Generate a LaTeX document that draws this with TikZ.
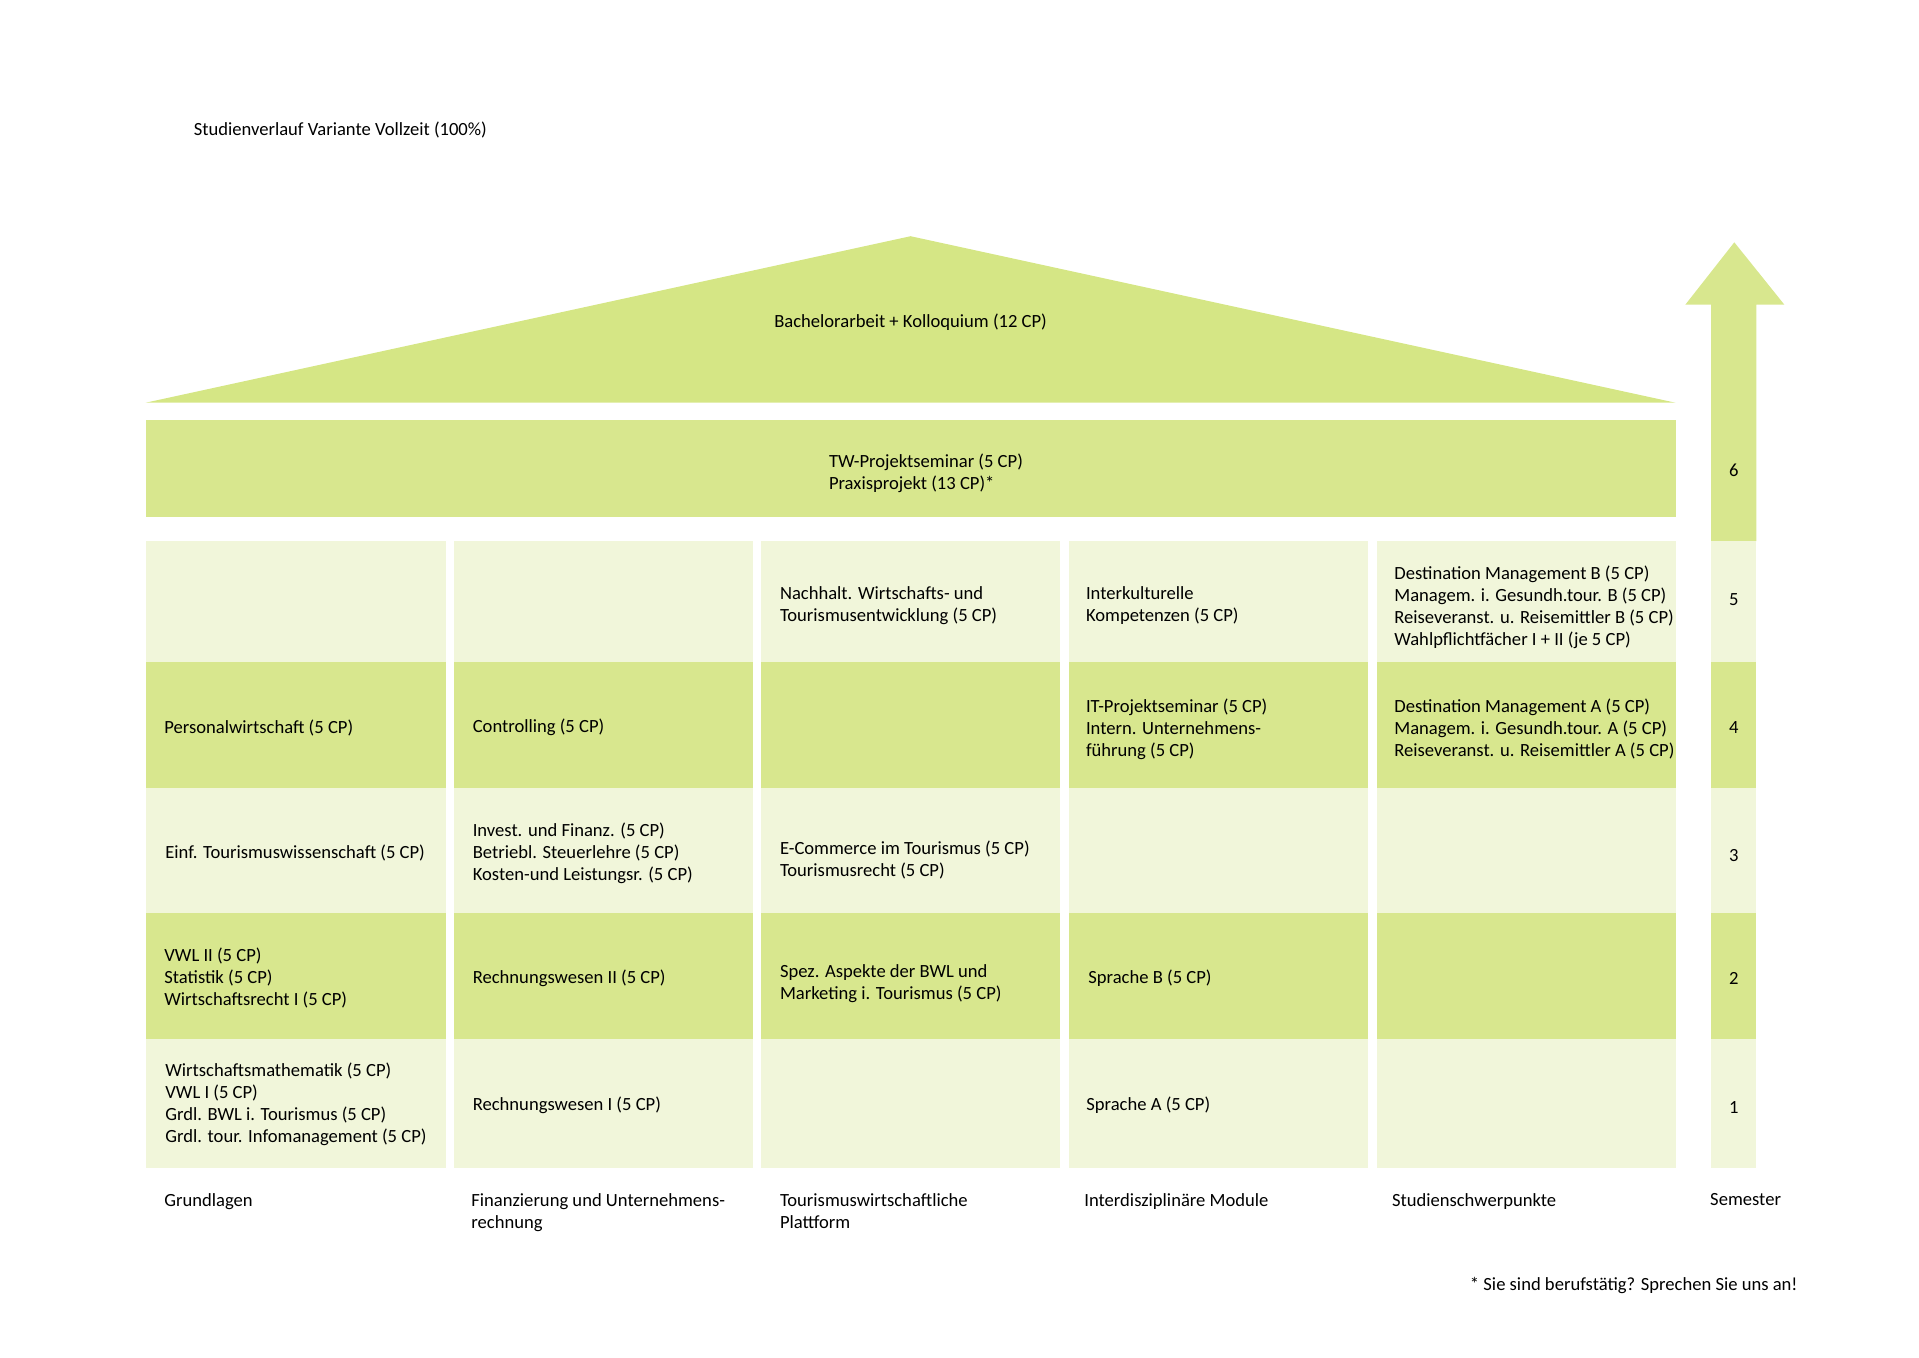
\documentclass[tikz,border=0pt]{standalone}
\usepackage{fontspec}
\setmainfont{Carlito}
\usetikzlibrary{positioning}
\definecolor{gruen}{RGB}{216,231,142}
\definecolor{hellgruen}{RGB}{241,246,218}
\definecolor{dach}{RGB}{213,230,133}

\begin{document}
\begin{tikzpicture}[x=0.5pt,y=-0.5pt,line cap=round,line join=round,
  schrift/.style={inner sep=0pt,yshift=-1.2pt,font=\fontsize{9.3}{11}\selectfont},
  modul/.style={schrift,anchor=west,align=left},
  saeule/.style={schrift,anchor=north west,align=left},
  semnr/.style={schrift}]
\useasboundingbox (0,0) rectangle (1919,1357);
% Dach und Praxisband
\fill[dach] (145.6,402.7) -- (910.6,236.2) -- (1675.5,402.7) -- cycle;
\fill[gruen] (145.6,419.8) rectangle (1675.5,516.5);
% Semesterpfeil
\fill[gruen] (1711,541) -- (1711,304.7) -- (1685.3,304.7) -- (1734.3,242.3) -- (1784.4,304.7) -- (1756.3,304.7) -- (1756.3,541) -- cycle;
% Felder der Saeulen
\foreach \ya/\yb/\farbe in {541/662.1/hellgruen, 662.1/788.2/gruen, 788.2/913/hellgruen, 913/1039.1/gruen, 1039.1/1167.6/hellgruen}{
  \foreach \xa/\xb in {145.6/445.5, 454/752.7, 761.3/1060, 1068.5/1368.3, 1377/1675.5}
    \fill[\farbe] (\xa,\ya) rectangle (\xb,\yb);
  \fill[\farbe] (1711,\ya) rectangle (1756.3,\yb);
}

\node[modul] (titel) at (193.4,127.3) {Studienverlauf Variante Vollzeit (100\%)};
\node[schrift] (bachelor) at (910.6,319.4) {Bachelorarbeit + Kolloquium (12 CP)};
\node[modul] (praxis) at (828.6,471.2) {TW-Projektseminar (5 CP)\\Praxisprojekt (13 CP)*};

% Grundlagen
\node[modul] (gl4) at (164,725.2) {Personalwirtschaft (5 CP)};
\node[modul] (gl3) at (165,850.6) {Einf. Tourismuswissenschaft (5 CP)};
\node[modul] (gl2) at (164,976) {VWL II (5 CP)\\Statistik (5 CP)\\Wirtschaftsrecht I (5 CP)};
\node[modul] (gl1) at (165,1102) {Wirtschaftsmathematik (5 CP)\\VWL I (5 CP)\\Grdl. BWL i. Tourismus (5 CP)\\Grdl. tour. Infomanagement (5 CP)};
% Finanzierung
\node[modul] (fi4) at (472.4,725.2) {Controlling (5 CP)};
\node[modul] (fi3) at (472.4,850.6) {Invest. und Finanz. (5 CP)\\Betriebl. Steuerlehre (5 CP)\\Kosten-und Leistungsr. (5 CP)};
\node[modul] (fi2) at (472.4,976) {Rechnungswesen II (5 CP)};
\node[modul] (fi1) at (472.4,1103.3) {Rechnungswesen I (5 CP)};
% Plattform
\node[modul] (pl5) at (779.6,603) {Nachhalt. Wirtschafts- und\\Tourismusentwicklung (5 CP)};
\node[modul] (pl3) at (779.6,858) {E-Commerce im Tourismus (5 CP)\\Tourismusrecht (5 CP)};
\node[modul] (pl2) at (779.6,981) {Spez. Aspekte der BWL und\\Marketing i. Tourismus (5 CP)};
% Interdisziplinaer
\node[modul] (id5) at (1085.6,603) {Interkulturelle\\Kompetenzen (5 CP)};
\node[modul] (id4) at (1085.6,727) {IT-Projektseminar (5 CP)\\Intern. Unternehmens-\\führung (5 CP)};
\node[modul] (id2) at (1088,976) {Sprache B (5 CP)};
\node[modul] (id1) at (1086,1103) {Sprache A (5 CP)};
% Schwerpunkte
\node[modul] (sp5) at (1394,605) {Destination Management B (5 CP)\\Managem. i. Gesundh.tour. B (5 CP)\\Reiseveranst. u. Reisemittler B (5 CP)\\Wahlpflichtfächer I + II (je 5 CP)};
\node[modul] (sp4) at (1394,727) {Destination Management A (5 CP)\\Managem. i. Gesundh.tour. A (5 CP)\\Reiseveranst. u. Reisemittler A (5 CP)};

% Semester
\node[semnr] (s6) at (1733.7,467.5) {6};
\node[semnr] (s5) at (1733.7,597) {5};
\node[semnr] (s4) at (1733.7,725) {4};
\node[semnr] (s3) at (1733.7,853) {3};
\node[semnr] (s2) at (1733.7,976) {2};
\node[semnr] (s1) at (1733.7,1105) {1};

% Saeulenbeschriftung
\node[saeule] (grundlagen) at (164,1191) {Grundlagen};
\node[saeule] (finanz) at (471,1191) {Finanzierung und Unternehmens-\\rechnung};
\node[saeule] (plattform) at (779.6,1191) {Tourismuswirtschaftliche\\Plattform};
\node[saeule] (interdis) at (1084,1191) {Interdisziplinäre Module};
\node[saeule] (schwerp) at (1391.6,1191) {Studienschwerpunkte};
\node[saeule] (semester) at (1709.8,1191) {Semester};
\node[schrift,anchor=east] (fussnote) at (1798,1283) {* Sie sind berufstätig? Sprechen Sie uns an!};
\end{tikzpicture}
\end{document}
